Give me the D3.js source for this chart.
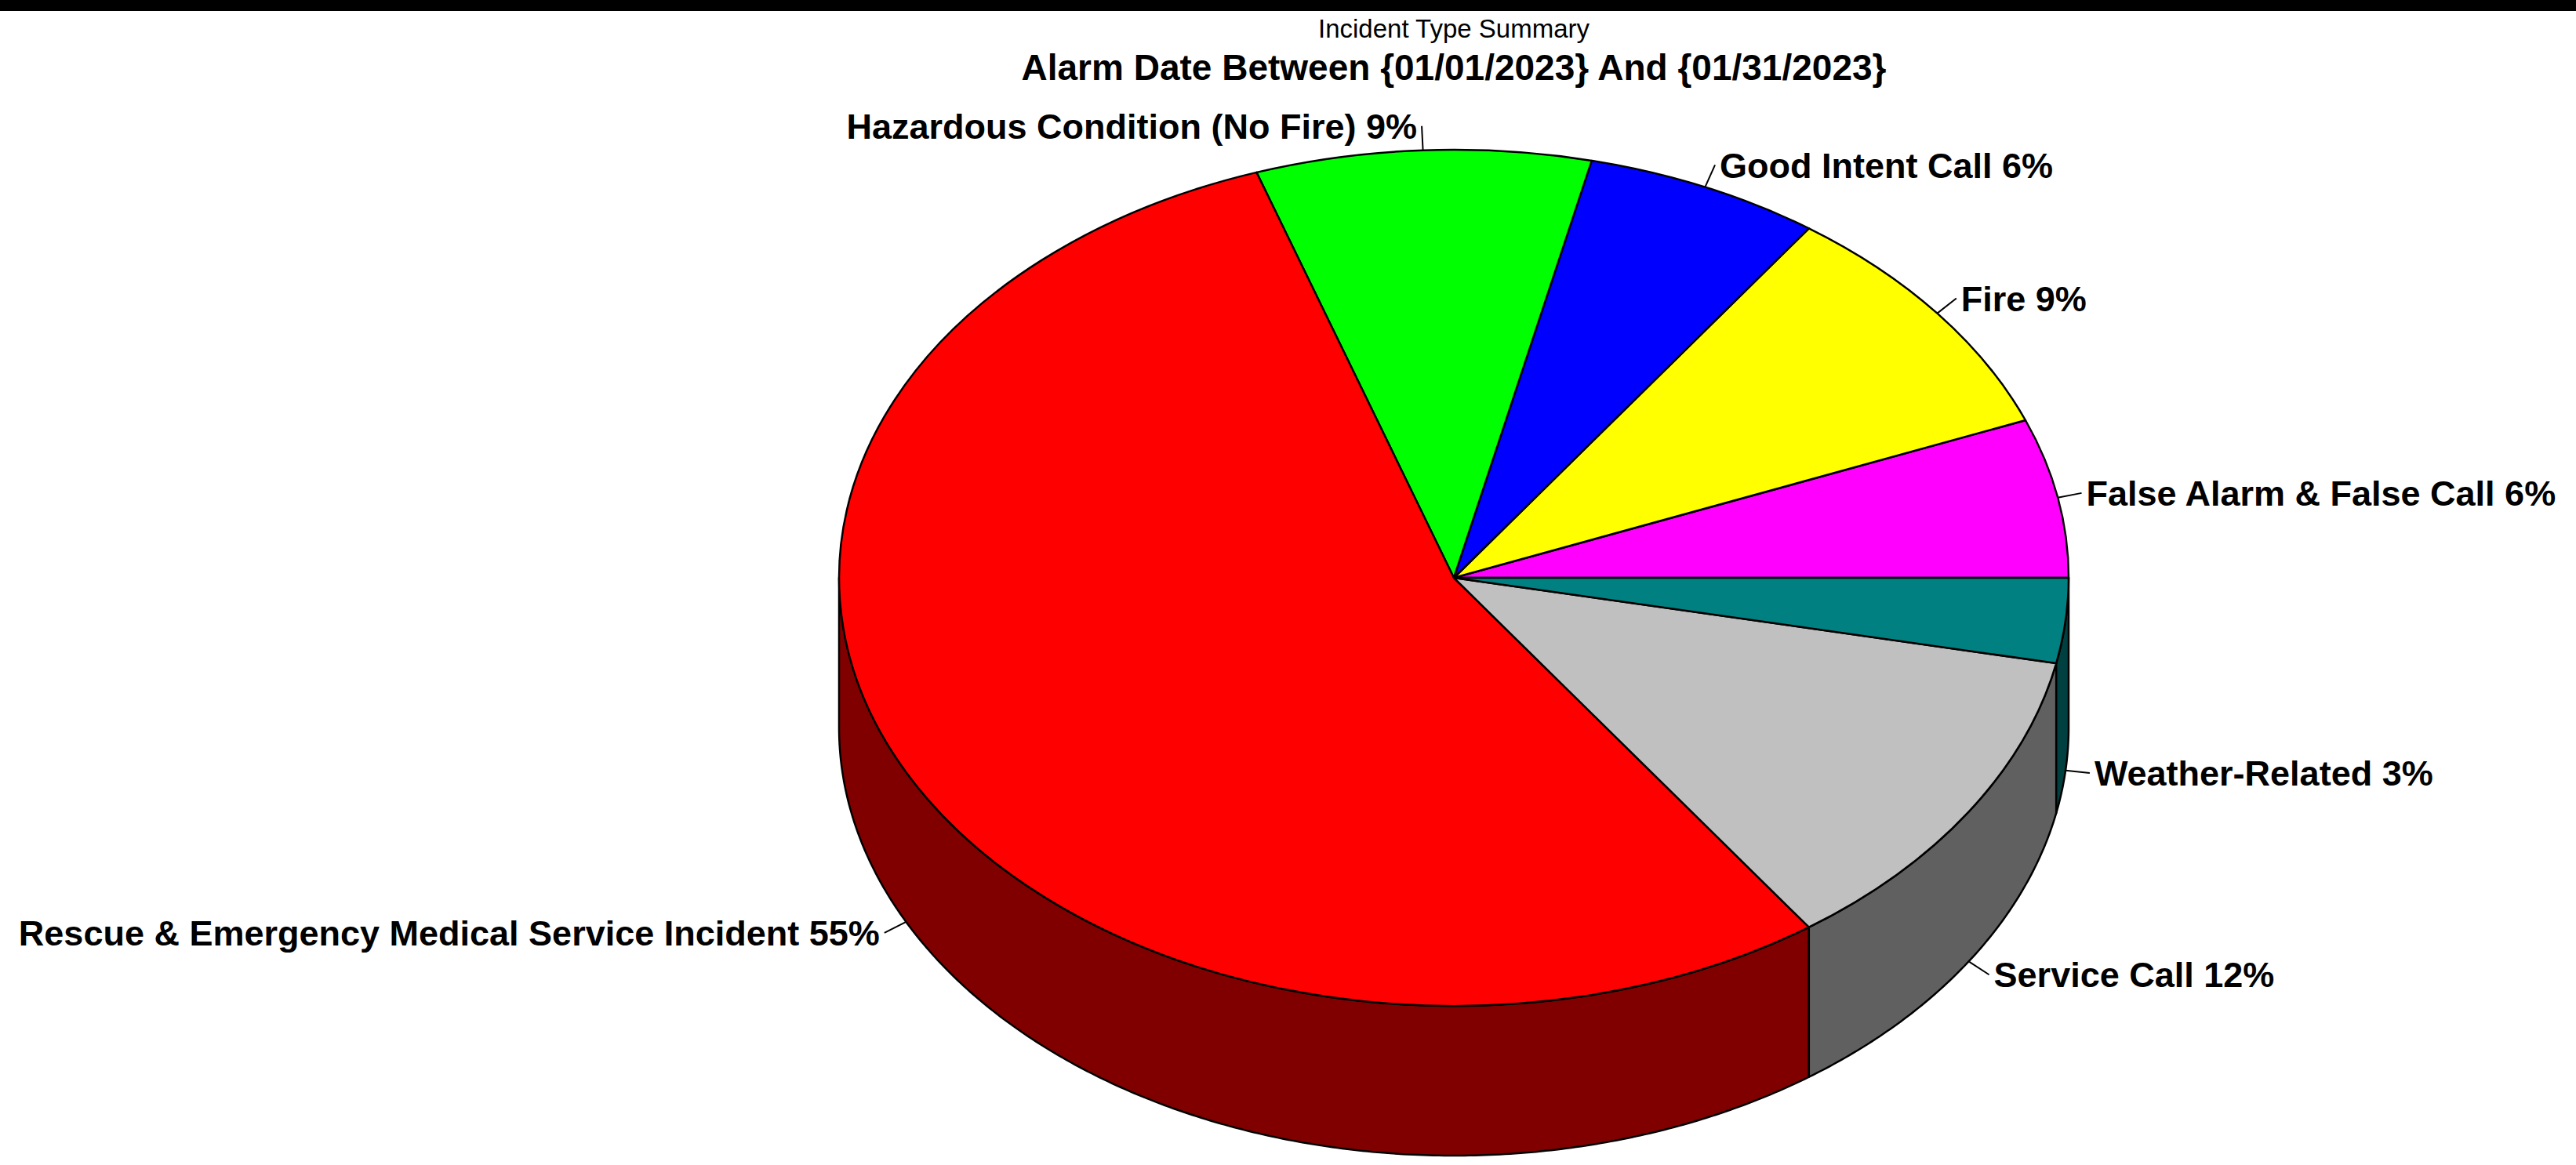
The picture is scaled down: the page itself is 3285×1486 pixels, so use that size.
<!DOCTYPE html>
<html>
<head>
<meta charset="utf-8">
<script src="https://cdn.jsdelivr.net/npm/d3@7"></script>
<style>
  html, body { margin: 0; padding: 0; background: #fff; }
  svg { display: block; }
  text { font-family: "Liberation Sans", Arial, sans-serif; fill: #000; }
</style>
</head>
<body>
<svg id="chart" width="3285" height="1486"></svg>
<script>
// ---- data ----
const chartTitle = "Incident Type Summary";
const chartSubtitle = "Alarm Date Between {01/01/2023} And {01/31/2023}";
const categories = [
  "False Alarm & False Call",
  "Fire",
  "Good Intent Call",
  "Hazardous Condition (No Fire)",
  "Rescue & Emergency Medical Service Incident",
  "Service Call",
  "Weather-Related"
];
const counts = [30, 46, 31, 44, 273, 60, 16];
const topColors = ["#ff00ff", "#ffff00", "#0000ff", "#00ff00", "#ff0000", "#c0c0c0", "#008080"];
const sideColors = ["#800080", "#808000", "#000080", "#008000", "#800000", "#606060", "#004040"];

// ---- layout ----
const W = 3285, H = 1486;
const cx = 1854, cy = 737, rx = 784, ry = 546, depth = 191;
const svg = d3.select("#chart");

svg.append("rect").attr("x", 0).attr("y", 0).attr("width", W).attr("height", H).attr("fill", "#fff");
svg.append("rect").attr("x", 0).attr("y", 0).attr("width", W).attr("height", 14).attr("fill", "#000");

svg.append("text").attr("x", cx).attr("y", 48).attr("text-anchor", "middle")
  .style("font-size", "33px").text(chartTitle);
svg.append("text").attr("x", cx).attr("y", 102).attr("text-anchor", "middle")
  .style("font-size", "46px").style("font-weight", "bold").text(chartSubtitle);

const total = d3.sum(counts);
const pie = d3.pie().sort(null).value(d => d)
  .startAngle(Math.PI / 2).endAngle(Math.PI / 2 - 2 * Math.PI);
const arcsData = pie(counts).map((d, i) => ({
  ...d, i,
  t0: Math.PI / 2 - d.startAngle,
  t1: Math.PI / 2 - d.endAngle
}));

const ex = t => cx + rx * Math.cos(t);
const ey = t => cy - ry * Math.sin(t);

// sides (visible lower half: theta in [PI, 2PI])
const sideG = svg.append("g");
const line = d3.line();
arcsData.forEach(d => {
  const a = Math.max(d.t0, Math.PI), b = Math.min(d.t1, 2 * Math.PI);
  if (b <= a) return;
  const n = Math.max(8, Math.ceil((b - a) * 120));
  const ts = d3.range(n + 1).map(k => a + (b - a) * k / n);
  const pts = ts.map(t => [ex(t), ey(t)])
    .concat(ts.slice().reverse().map(t => [ex(t), ey(t) + depth]));
  sideG.append("path")
    .attr("d", line(pts) + "Z")
    .attr("fill", sideColors[d.i])
    .attr("stroke", "#000").attr("stroke-width", 2.5).attr("stroke-linejoin", "round");
});

// top
const arc = d3.arc().innerRadius(0).outerRadius(rx);
svg.append("g")
  .attr("transform", `translate(${cx},${cy}) scale(1,${ry / rx})`)
  .selectAll("path").data(arcsData).join("path")
  .attr("d", arc)
  .attr("fill", d => topColors[d.i])
  .attr("stroke", "#000").attr("stroke-width", 2.5)
  .attr("vector-effect", "non-scaling-stroke")
  .attr("stroke-linejoin", "round");

// labels
const L = 31, gap = 6;
const labelG = svg.append("g");
arcsData.forEach(d => {
  const tm = (d.t0 + d.t1) / 2;
  const c = Math.cos(tm), s = Math.sin(tm);
  const x0 = ex(tm), y0 = ey(tm) + (s < 0 ? depth : 0);
  const x1 = x0 + L * c, y1 = y0 - L * s;
  labelG.append("line").attr("x1", x0).attr("y1", y0).attr("x2", x1).attr("y2", y1)
    .attr("stroke", "#000").attr("stroke-width", 2);
  const pct = Math.round(d.value / total * 100);
  labelG.append("text")
    .attr("x", c >= 0 ? x1 + gap : x1 - gap)
    .attr("y", y1)
    .attr("dy", "0.36em")
    .attr("text-anchor", c >= 0 ? "start" : "end")
    .style("font-size", "45px").style("font-weight", "bold")
    .text(`${categories[d.i]} ${pct}%`);
});
</script>
</body>
</html>
